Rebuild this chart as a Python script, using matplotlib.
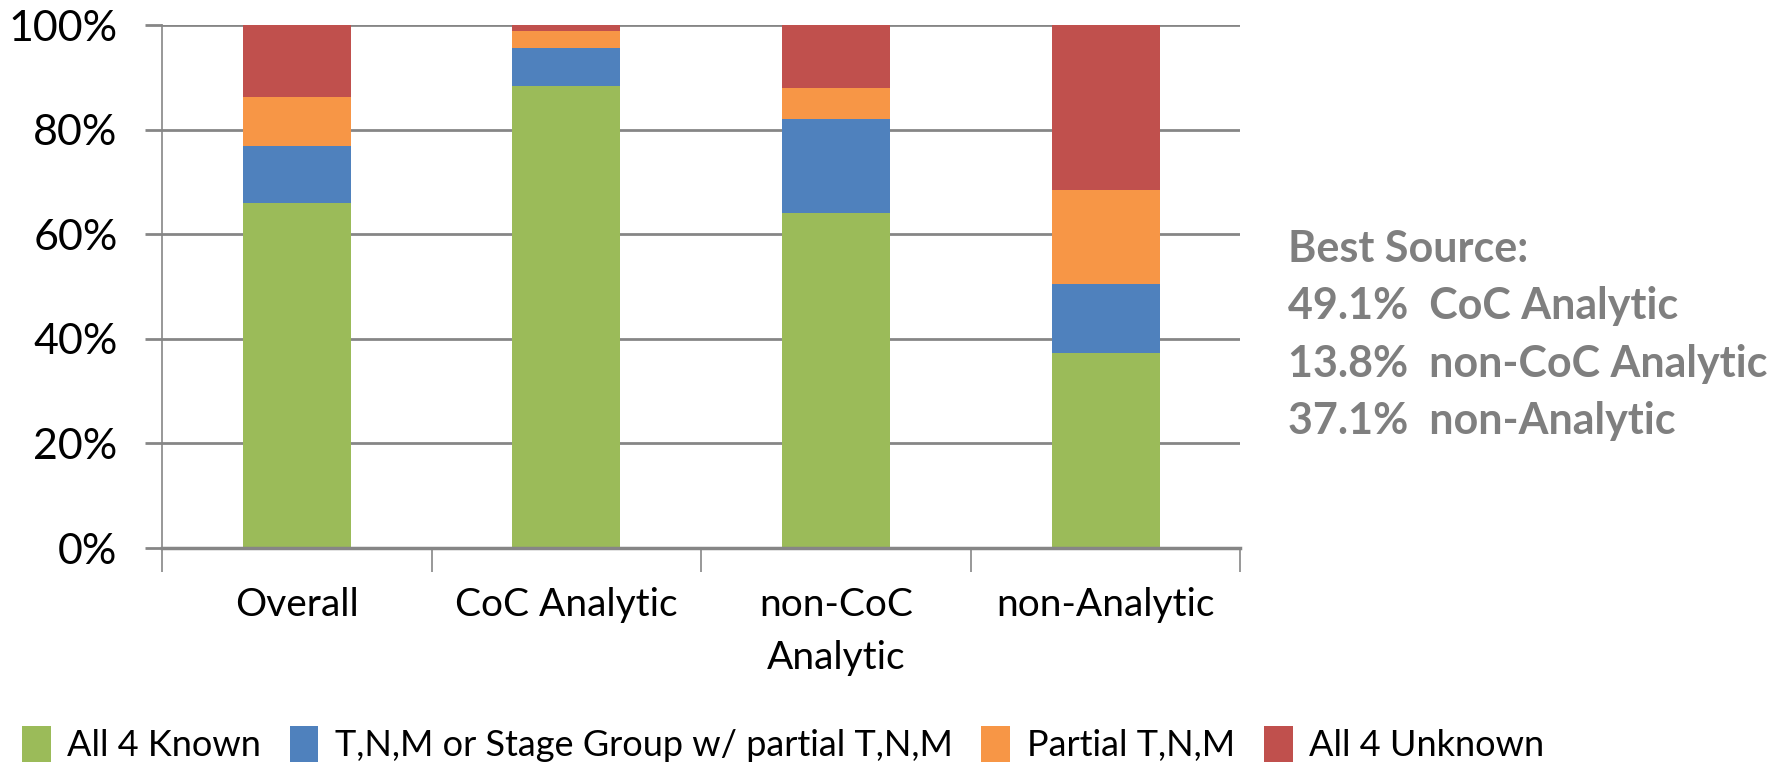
import matplotlib
matplotlib.use("Agg")
import matplotlib.pyplot as plt
import numpy as np

# categories and stacked shares (%)
categories = ['Overall', 'CoC Analytic', 'non-CoC\nAnalytic', 'non-Analytic']
all4_known = [66.1, 88.4, 64.1, 37.4]
tnm_stage = [10.9, 7.2, 17.9, 13.1]
partial_tnm = [9.2, 3.3, 6.0, 18.0]
all4_unknown = [13.8, 1.1, 12.0, 31.5]

series_names = ['All 4 Known', 'T,N,M or Stage Group w/ partial T,N,M',
                'Partial T,N,M', 'All 4 Unknown']
colors = ['#9BBB59', '#4F81BD', '#F79646', '#C0504D']

best_source = ['Best Source:', '49.1%  CoC Analytic',
               '13.8%  non-CoC Analytic', '37.1%  non-Analytic']

plt.rcParams['font.family'] = ['Lato', 'DejaVu Sans']

fig = plt.figure(figsize=(17.9, 7.67), dpi=100)
ax = fig.add_axes([0.0905, 0.2855, 0.6025, 0.6815])

x = np.arange(len(categories))
bottom = np.zeros(len(categories))
for vals, name, c in zip([all4_known, tnm_stage, partial_tnm, all4_unknown], series_names, colors):
    ax.bar(x, vals, width=0.4, bottom=bottom, color=c, label=name, zorder=3)
    bottom += np.array(vals)

ax.set_xlim(-0.5, len(categories) - 0.5)
ax.set_ylim(0, 100)
ax.set_yticks(range(0, 101, 20))
ax.set_yticklabels([f'{v}%' for v in range(0, 101, 20)], fontsize=31)
ax.yaxis.grid(True, color='#868686', linewidth=2, zorder=0)

ax.set_xticks(x)
ax.set_xticklabels(categories, fontsize=28, linespacing=1.6, va='top')
ax.set_xticks(np.arange(-0.5, len(categories)), minor=True)
ax.tick_params(axis='x', which='major', length=0, pad=28)
ax.tick_params(axis='x', which='minor', length=17, width=1.2, color='#868686', direction='out')
ax.tick_params(axis='y', length=12, width=2, color='#868686', pad=20)

for s in ['top', 'right']:
    ax.spines[s].set_visible(False)
ax.spines['left'].set_color('#868686')
ax.spines['left'].set_linewidth(1.2)
ax.spines['bottom'].set_color('#868686')
ax.spines['bottom'].set_linewidth(2.5)
ax.spines['bottom'].set_zorder(4)

y0 = 0.675
for i, line in enumerate(best_source):
    fig.text(0.7195, y0 - i * 0.0745, line, fontsize=31, fontweight='bold',
             color='#7F7F7F', va='center', ha='left')

fig.legend(loc='lower left', bbox_to_anchor=(0.0, -0.022), ncol=4, frameon=False,
           fontsize=26, handlelength=0.8, handleheight=1.15, handletextpad=0.45,
           columnspacing=0.8, borderpad=0.3, borderaxespad=0.3)

fig.savefig('out.png', dpi=100)
